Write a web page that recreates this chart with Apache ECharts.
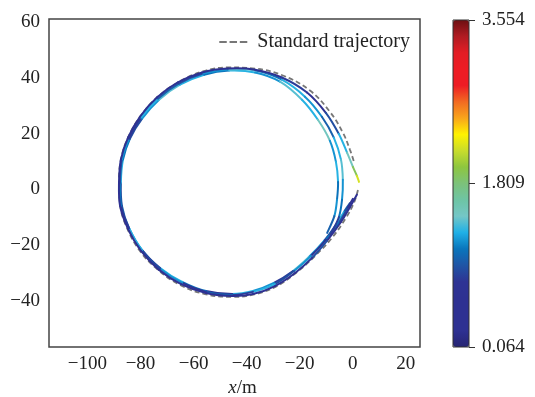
<!DOCTYPE html>
<html>
<head>
<meta charset="utf-8">
<script src="https://cdn.jsdelivr.net/npm/echarts@6/dist/echarts.min.js"></script>
<style>html,body{margin:0;padding:0;background:#fff}#c{width:535px;height:397px}</style>
</head>
<body>
<div id="c"></div>
<script>
// ---- data (x/m, y/m) ----
const standardPoints = [[2.0,-0.2],[0.5,-4.8],[-2.5,-10.2],[-7.8,-17.4],[-14.6,-24.3],[-21.4,-30.0],[-29.3,-35.1],[-37.9,-37.9],[-45.4,-38.6],[-55.7,-37.6],[-65.1,-34.3],[-73.4,-28.9],[-80.2,-22.1],[-85.1,-13.8],[-87.7,-5.5],[-88.1,2.4],[-87.4,10.7],[-84.7,18.6],[-80.2,26.1],[-73.8,33.0],[-65.9,38.4],[-56.8,42.3],[-47.0,43.8],[-36.8,43.4],[-26.3,40.9],[-16.1,35.5],[-8.6,27.9],[-3.7,20.4],[-1.0,14.2],[0.5,9.9]];

const run1Points = [[1.6,-1.9],[-1.0,-6.3],[-4.4,-11.7],[-9.7,-18.5],[-15.3,-24.6],[-21.7,-30.0],[-29.3,-34.7],[-37.6,-37.6],[-45.4,-38.3],[-55.3,-37.2],[-64.7,-34.0],[-73.0,-28.9],[-79.8,-22.1],[-84.7,-14.2],[-87.7,-5.9],[-88.1,2.4],[-87.4,10.7],[-84.7,18.6],[-80.2,26.1],[-73.8,33.0],[-65.9,38.4],[-56.8,42.0],[-47.0,43.4],[-36.8,43.0],[-26.7,40.2],[-17.2,34.8],[-10.1,27.5],[-5.2,19.9],[-2.1,13.2],[0.1,8.1],[1.6,4.9],[2.4,2.7]];
const run1Values = [0.4,0.5,0.6,0.9,0.5,0.4,0.6,0.4,0.3,0.5,0.4,0.3,0.5,0.3,0.4,0.3,0.4,0.3,0.4,0.3,0.5,0.4,0.6,0.5,0.8,0.6,0.9,1.3,1.5,1.9,2.2,2.35];

const run2Points = [[0.1,-3.4],[-2.1,-7.0],[-5.2,-12.0],[-10.1,-18.1],[-15.7,-23.9],[-22.1,-29.3],[-29.3,-34.0],[-37.6,-36.8],[-45.4,-37.9],[-55.3,-36.8],[-64.3,-33.6],[-72.6,-28.5],[-79.4,-21.8],[-84.3,-13.9],[-87.3,-5.9],[-87.7,2.4],[-87.0,10.7],[-84.3,18.2],[-79.8,25.8],[-73.4,32.6],[-65.5,38.0],[-56.4,41.6],[-46.6,43.0],[-36.5,42.7],[-26.7,39.4],[-18.0,33.3],[-11.6,26.1],[-7.1,18.6],[-4.4,10.7],[-3.7,3.5],[-4.0,-3.7],[-5.2,-10.0],[-8.4,-16.3]];
const run2Values = [0.6,0.9,1.1,0.7,1.2,0.9,1.3,0.8,1.0,0.7,1.2,0.9,1.3,0.8,1.1,0.9,1.2,0.8,1.3,1.0,0.9,1.2,1.4,1.1,1.3,1.2,1.0,1.3,1.4,1.2,1.1,0.8,0.6];

const run3Points = [[-1.0,-4.9],[-3.3,-8.1],[-6.3,-12.7],[-10.8,-18.5],[-16.5,-24.3],[-22.5,-29.3],[-29.7,-33.6],[-37.6,-36.5],[-45.4,-37.6],[-55.3,-36.5],[-64.3,-33.2],[-72.6,-28.2],[-79.4,-21.8],[-84.3,-13.9],[-87.0,-5.9],[-87.4,2.4],[-86.6,10.7],[-84.0,18.2],[-79.4,25.4],[-73.0,32.2],[-65.1,37.6],[-56.0,41.2],[-46.6,42.7],[-36.8,42.0],[-27.4,38.7],[-19.1,32.2],[-13.1,25.0],[-8.6,17.5],[-6.3,9.9],[-5.5,2.7],[-5.9,-3.7],[-6.9,-9.6],[-9.6,-15.6]];
const run3Values = [1.0,1.3,0.9,1.2,1.4,0.8,1.2,1.3,0.7,1.1,1.3,0.8,1.2,1.0,0.9,1.3,1.1,0.9,1.2,1.4,1.3,1.1,1.3,1.2,1.4,1.3,1.5,1.2,1.3,1.1,1.2,1.0,0.7];

const xTicks = [-100,-80,-60,-40,-20,0,20];
const yTicks = [-40,-20,0,20,40,60];
const colorbarTicks = [0.064,1.809,3.554];
const valueMin = 0.064, valueMax = 3.554;
const legendName = 'Standard trajectory';

// ---- styling ----
const FONT = 'Liberation Serif';
const FS = 19;
const TXT = '#222';
const jet = ['#262473','#2e3192','#2e3192','#2e3192','#2e3494','#1f55a5','#0a75bc','#1fb0e6','#74c7c7','#6ec4a4','#7cc27a','#8dc63f','#c8dc2c','#fff200','#f9a51b','#f26a22','#ed1c24','#ed1c24','#e31d25','#b01c22','#6d0f12'];

const minus = v => (v < 0 ? '\u2212' + Math.abs(v) : String(v));

// each data item draws a smooth piece of the trajectory from its point to the next one,
// coloured by the visualMap from its value
function runSeries(name, pts, vals, z) {
  const n = pts.length;
  return {
    name, type: 'custom', coordinateSystem: 'cartesian2d', xAxisIndex: 0, yAxisIndex: 0,
    silent: true, z, clip: true,
    dimensions: ['x', 'y', 'v'],
    encode: {x: 0, y: 1},
    data: pts.map((p, i) => [p[0], p[1], vals[i]]),
    renderItem: function (params, api) {
      const i = params.dataIndex;
      if (i >= n - 1) return null;
      const P = k => api.coord(pts[Math.max(0, Math.min(n - 1, k))]);
      const p0 = P(i - 1), p1 = P(i), p2 = P(i + 1), p3 = P(i + 2);
      const t = 1 / 6;
      return {
        type: 'bezierCurve',
        shape: {
          x1: p1[0], y1: p1[1], x2: p2[0], y2: p2[1],
          cpx1: p1[0] + (p2[0] - p0[0]) * t, cpy1: p1[1] + (p2[1] - p0[1]) * t,
          cpx2: p2[0] - (p3[0] - p1[0]) * t, cpy2: p2[1] - (p3[1] - p1[1]) * t
        },
        style: {fill: 'none', stroke: api.visual('color'), lineWidth: 2, lineCap: 'round'}
      };
    }
  };
}

const chart = echarts.init(document.getElementById('c'), null, {renderer: 'canvas'});
chart.setOption({
  animation: false,
  backgroundColor: '#fff',
  grid: [
    {left: 49, top: 19, width: 371, height: 328, outerBoundsMode: 'none', containLabel: false,
     show: true, borderColor: '#444', borderWidth: 1.5, backgroundColor: 'transparent'},
    {left: 453, top: 20, width: 16, height: 327, outerBoundsMode: 'none', containLabel: false,
     show: true, borderColor: '#333', borderWidth: 1, backgroundColor: 'transparent', z: 10}
  ],
  xAxis: [
    {type: 'value', gridIndex: 0, min: -114.5, max: 25.4, splitLine: {show: false}, axisLine: {show: false}, axisTick: {show: false},
     axisLabel: {customValues: xTicks, formatter: minus, fontFamily: FONT, fontSize: FS, color: TXT, margin: 8},
     name: '{i|x}/m', nameLocation: 'middle', nameGap: 31,
     nameTextStyle: {fontFamily: FONT, fontSize: FS, color: TXT, padding: [0, 0, 0, 16],
       rich: {i: {fontFamily: FONT, fontSize: FS, fontStyle: 'italic', color: TXT}}}},
    {type: 'value', gridIndex: 1, show: false, min: 0, max: 1}
  ],
  yAxis: [
    {type: 'value', gridIndex: 0, min: -56.6, max: 61.2, splitLine: {show: false}, axisLine: {show: false, onZero: false}, axisTick: {show: false},
     axisLabel: {customValues: yTicks, formatter: minus, fontFamily: FONT, fontSize: FS, color: TXT, margin: 9, padding: [3, 0, 0, 0]}},
    {type: 'value', gridIndex: 1, position: 'right', min: valueMin, max: valueMax, z: 10,
     splitLine: {show: false}, axisLine: {show: false, onZero: false},
     axisTick: {show: true, customValues: colorbarTicks, length: 6, inside: false, lineStyle: {color: '#333', width: 1}},
     axisLabel: {customValues: colorbarTicks, formatter: v => v.toFixed(3), fontFamily: FONT, fontSize: FS, color: TXT, margin: 13, padding: [3, 0, 0, 0]}}
  ],
  legend: {
    data: [{name: legendName, icon: 'path://M0,0h8v2h-8zM11,0h8v2h-8zM22,0h8v2h-8z'}],
    right: 120, top: 27, itemWidth: 28, itemHeight: 2, itemGap: 6,
    itemStyle: {color: '#777'},
    textStyle: {fontFamily: FONT, fontSize: 20, color: TXT, padding: [0, 0, 0, 5]}, selectedMode: false
  },
  visualMap: {
    type: 'continuous', min: valueMin, max: valueMax, seriesIndex: [1, 2, 3], dimension: 2,
    show: true, calculable: false, hoverLink: false, realtime: false,
    left: 453, top: 20, padding: 0, itemWidth: 16, itemHeight: 327, text: null,
    inRange: {color: jet}
  },
  series: [
    {name: legendName, type: 'line', xAxisIndex: 0, yAxisIndex: 0, data: standardPoints, smooth: 0.4, symbol: 'none', silent: true, z: 1,
     itemStyle: {color: '#777'}, lineStyle: {color: '#777', width: 1.8, type: [5, 3]}},
    runSeries('run3', run3Points, run3Values, 2),
    runSeries('run2', run2Points, run2Values, 3),
    runSeries('run1', run1Points, run1Values, 4)
  ]
});
</script>
</body>
</html>
